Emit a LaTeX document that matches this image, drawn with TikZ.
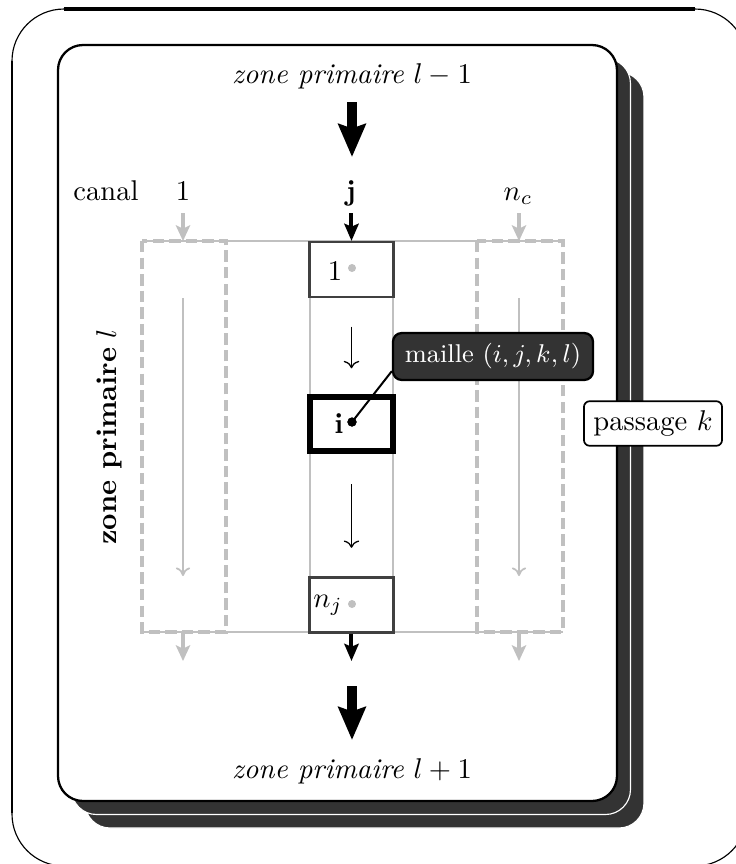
\documentclass[tikz,border=0pt]{standalone}
\usetikzlibrary{arrows.meta}
\definecolor{shade}{HTML}{333333}
\definecolor{lgray}{HTML}{C0C0C0}
\definecolor{dgray}{HTML}{404040}
\begin{document}
\begin{tikzpicture}[x=0.35pt,y=-0.35pt,
  bigarr/.style={line width=3.5pt,-{Stealth[length=11.5pt,width=9.5pt,inset=1.5pt]}},
  medarr/.style={line width=1.4pt,-{Stealth[length=6pt,width=5pt,inset=1pt]}},
  grayarr/.style={lgray,line width=1.1pt,-{Stealth[length=5.5pt,width=5pt,inset=1.2pt]}},
  graythin/.style={lgray,line width=0.6pt,-{To[length=3pt,width=5pt]}},
  thinarr/.style={line width=0.45pt,->},
  cellbox/.style={draw=dgray,line width=0.75pt,fill=white,minimum width=29.4pt,minimum height=19.25pt,inner sep=0pt},
  ibox/.style={draw=black,line width=2.1pt,fill=white,minimum width=29pt,minimum height=18.9pt,inner sep=0pt},
  graydot/.style={circle,fill=lgray,inner sep=0pt,minimum size=2.8pt},
  blackdot/.style={circle,fill=black,inner sep=0pt,minimum size=3.2pt},
  callout/.style={draw=black,fill=shade,line width=0.8pt,rounded corners=3pt,text=white,font=\small,minimum width=70pt,minimum height=16.4pt,inner sep=0pt},
  passbox/.style={draw=black,fill=white,line width=0.6pt,rounded corners=2pt,inner sep=3.3pt},
  colline/.style={lgray,line width=1pt},
  rowline/.style={lgray,line width=0.55pt},
  dashbox/.style={lgray,line width=1.5pt,dash pattern=on 4pt off 1.8pt},
  cardshadow/.style={fill=shade,draw=white,line width=0.4pt,rounded corners=8.75pt}
]
\useasboundingbox (0,0) rectangle (736,864);
\clip (0,0) rectangle (736,864);
% outer frame
\draw[line width=0.4pt,rounded corners=18.2pt] (12,9) rectangle (747,866);
\draw[line width=1.2pt] (64,9) -- (695,9);
\draw[line width=0.7pt] (12,61) -- (12,813);
% card with shadows
\path[cardshadow] (85,72) rectangle (644,828);
\path[cardshadow] (71.5,58.5) rectangle (630.5,814.5);
\draw[fill=white,line width=0.8pt,rounded corners=8.75pt] (58,45) rectangle (617,801);
% grid lines
\draw[rowline] (142,241) -- (563,241);
\draw[rowline] (142,632) -- (563,632);
\draw[colline] (310,241) -- (310,632);
\draw[colline] (393,241) -- (393,632);
\draw[dashbox] (142,241) rectangle (226,632);
\draw[dashbox] (477,241) rectangle (563,632);
% side channel coordinates and arrows
\coordinate (lt0) at (183,213); \coordinate (lt1) at (183,241);
\coordinate (li0) at (183,298); \coordinate (li1) at (183,576);
\coordinate (lb0) at (183,633); \coordinate (lb1) at (183,661);
\coordinate (rt0) at (519,213); \coordinate (rt1) at (519,241);
\coordinate (ri0) at (519,298); \coordinate (ri1) at (519,576);
\coordinate (rb0) at (519,633); \coordinate (rb1) at (519,661);
\draw[grayarr] (lt0) -- (lt1);
\draw[grayarr] (rt0) -- (rt1);
\draw[grayarr] (lb0) -- (lb1);
\draw[grayarr] (rb0) -- (rb1);
\draw[graythin] (li0) -- (li1);
\draw[graythin] (ri0) -- (ri1);
% cells
\node[cellbox] (b1) at (351.5,269.5) {};
\node[cellbox] (bn) at (351.5,605) {};
\node[ibox] (bi) at (351.5,424) {};
\node[anchor=base,inner sep=0pt] (t1) at (335,280) {1};
\node[graydot] (d1) at (352,268) {};
\node[anchor=base,inner sep=0pt] (ti) at (339,433) {$\mathbf{i}$};
\node[blackdot] (di) at (352,422) {};
\node[anchor=base,inner sep=0pt] (tn) at (328,607) {$n_j$};
\node[graydot] (dn) at (352,604) {};
% labels on top
\node[anchor=base,inner sep=0pt] (canal) at (106,200) {canal};
\node[anchor=base,inner sep=0pt] (c1) at (183,200) {1};
\node[anchor=base,inner sep=0pt] (cj) at (351,200) {$\mathbf{j}$};
\node[anchor=base,inner sep=0pt] (cn) at (518,200) {$n_c$};
\coordinate (jtop) at (351.5,213);
\coordinate (nbot) at (351.5,661);
\draw[medarr] (jtop) -- (b1.north);
\draw[medarr] (bn.south) -- (nbot);
\draw[thinarr,shorten <=10pt,shorten >=9pt] (b1.south) -- (bi.north);
\draw[thinarr,shorten <=10.5pt,shorten >=10pt] (bi.south) -- (bn.north);
% zones
\node[anchor=base,inner sep=0pt] (zprev) at (352,83) {\textit{zone primaire} $l-1$};
\node[anchor=base,inner sep=0pt] (znext) at (352,778) {\textit{zone primaire} $l+1$};
\coordinate (ua0) at (352,102); \coordinate (ua1) at (352,157);
\coordinate (da0) at (352,686); \coordinate (da1) at (352,740);
\draw[bigarr] (ua0) -- (ua1);
\draw[bigarr] (da0) -- (da1);
\node[rotate=90,anchor=base,inner sep=0pt] (zcur) at (116,437) {\textbf{zone primaire} $l$};
% callout
\node[callout] (mail) at (493,356.5) {maille $(i,j,k,l)$};
\draw[line width=0.7pt] (di.center) -- ([yshift=3.5pt]mail.south west);
\node[blackdot] at (di) {};
\node[passbox] (pass) at (653,423.5) {passage $k$};
\end{tikzpicture}
\end{document}
